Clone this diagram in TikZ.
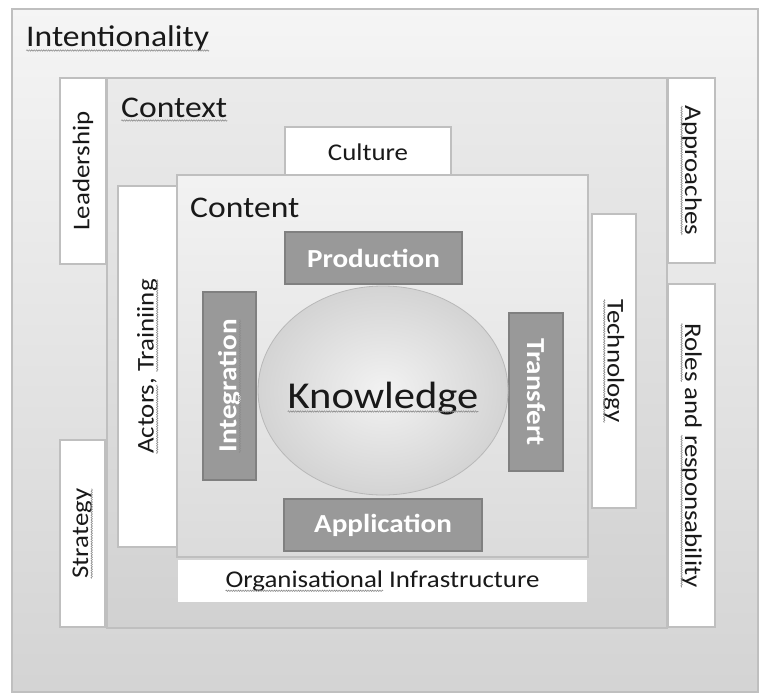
\documentclass[tikz,border=0pt]{standalone}
\usepackage{fontspec}
\setmainfont{Carlito}[FakeStretch=1.12]
\usetikzlibrary{shapes.geometric,shadings,decorations.pathmorphing}
\newcommand\spellmark[1]{\tikz[baseline=(spw.base)]{\node[shape=rectangle, draw=none, fill=none, minimum width=0pt, minimum height=0pt, inner sep=0pt, outer sep=0pt] (spw) {#1};
  \draw[overlay, black!45, line width=0.6pt, decorate, decoration={snake, amplitude=0.7pt, segment length=2.4pt}]
    ([yshift=-3.5pt]spw.base west) -- ([yshift=-3.5pt]spw.base east);}}

\begin{document}
\begin{tikzpicture}[x=1pt, y=-1pt,
    frame/.style={draw=black!25, line width=1.2pt, inner sep=0pt},
    sidebox/.style={draw=black!25, fill=white, line width=1.2pt, inner sep=0pt, text=black!90, font=\fontsize{24}{28}\selectfont},
    corebox/.style={draw=black!50, fill=black!40, line width=1.5pt, inner sep=0pt, text=white, font=\fontsize{26}{30}\selectfont\bfseries},
    title/.style={anchor=base west, inner sep=0pt, text=black!90, font=\fontsize{30}{34}\selectfont}]
  \useasboundingbox (0,0) rectangle (759,693);
  \fill[white] (0,0) rectangle (759,693);
  % outer level
  \node[frame, top color=black!4, bottom color=black!17, minimum width=746pt, minimum height=683pt] (intent) at (385,350.5) {};
  \node[title] (intenttxt) at (26,47) {\spellmark{Intentionality}};
  \node[sidebox, rotate=90, minimum width=186pt, minimum height=46pt] (lead) at (83,171) {Leadership};
  \node[sidebox, rotate=90, minimum width=187pt, minimum height=45pt] (strat) at (82.5,533.5) {\spellmark{Strategy}};
  \node[sidebox, rotate=-90, minimum width=185pt, minimum height=47pt] (appr) at (691.5,170.5) {\spellmark{Approaches}};
  \node[sidebox, rotate=-90, minimum width=343pt, minimum height=47pt] (roles) at (691.5,455.5) {\spellmark{Roles} and \spellmark{responsability}};
  % context level
  \node[frame, top color=black!8, bottom color=black!18, minimum width=560pt, minimum height=550pt] (ctx) at (387,353) {};
  \node[title] (ctxtxt) at (121,117) {\spellmark{Context}};
  \node[sidebox, minimum width=166pt, minimum height=50pt] (cult) at (368,152) {Culture};
  \node[sidebox, rotate=90, minimum width=361pt, minimum height=59pt] (actors) at (147.5,366.5) {\spellmark{Actors}, \spellmark{Trainiing}};
  \node[sidebox, rotate=-90, minimum width=294pt, minimum height=44pt] (tech) at (614,361) {\spellmark{Technology}};
  \node[sidebox, draw=none, minimum width=409pt, minimum height=42pt] (infra) at (382.5,581) {\spellmark{Organisational} Infrastructure};
  % content level
  \node[frame, top color=black!5, bottom color=black!14, minimum width=411pt, minimum height=382pt] (cont) at (382.5,366) {};
  \node[title] (conttxt) at (190,217) {Content};
  \node[corebox, minimum width=177pt, minimum height=52pt] (prod) at (373.5,258) {Production};
  \node[corebox, rotate=90, minimum width=188pt, minimum height=53pt] (integ) at (229.5,386) {\spellmark{Integration}};
  \node[corebox, rotate=-90, minimum width=158pt, minimum height=54pt] (transf) at (536,392) {Transfert};
  \node[corebox, minimum width=198pt, minimum height=52pt] (appl) at (383,525) {Application};
  \node[ellipse, draw=black!28, line width=0.8pt, inner color=black!5, outer color=black!17, minimum width=250pt, minimum height=209pt, inner sep=0pt] (know) at (383,390.5) {};
  \node[anchor=base, inner sep=0pt, text=black!90, font=\fontsize{38}{42}\selectfont] (knowtxt) at (383,408) {\spellmark{Knowledge}};
\end{tikzpicture}
\end{document}
